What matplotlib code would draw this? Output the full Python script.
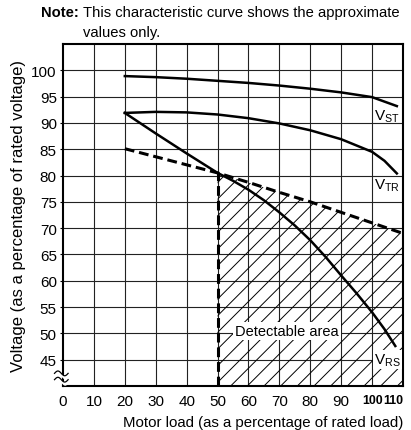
import numpy as np
import matplotlib
matplotlib.use("Agg")
import matplotlib.pyplot as plt

plt.rcParams['font.family'] = ['Liberation Sans', 'DejaVu Sans']
plt.rcParams['mathtext.fontset'] = 'custom'
plt.rcParams['mathtext.rm'] = 'Liberation Sans'
plt.rcParams['hatch.linewidth'] = 0.7

# motor load (%) and voltage (%)
vst_x = [20, 30, 40, 50, 60, 70, 80, 90, 100, 108]
vst_y = [98.9, 98.7, 98.4, 98.0, 97.6, 97.1, 96.5, 95.8, 94.9, 93.2]

vtr_x = [20, 30, 40, 50, 60, 70, 80, 90, 100, 104, 108]
vtr_y = [91.9, 92.1, 92.0, 91.6, 90.9, 89.9, 88.6, 86.9, 84.5, 82.8, 80.4]

vrs_x = [20, 30, 40, 50, 55, 60, 65, 70, 75, 80, 85, 90, 95, 100, 104, 107.5]
vrs_y = [91.9, 88.0, 84.2, 80.5, 79.0, 77.3, 75.3, 73.0, 70.5, 67.7, 64.5,
         61.0, 57.6, 54.0, 50.8, 47.6]

# detection limit (dashed)
lim_x = [20, 50, 60, 70, 80, 90, 100, 110]
lim_y = [85.1, 80.5, 78.7, 76.8, 75.0, 73.0, 71.0, 69.0]

x_ticks = [0, 10, 20, 30, 40, 50, 60, 70, 80, 90, 100, 110]
y_ticks = [45, 50, 55, 60, 65, 70, 75, 80, 85, 90, 95, 100]
y_min, y_max = 40, 105

fig = plt.figure(figsize=(4.11, 4.31), dpi=100)
ax = fig.add_axes([0.1533, 0.1021, 0.8273, 0.7935])
ax.set_xlim(0, 110)
ax.set_ylim(y_min, y_max)

# grid
for xv in x_ticks[1:-1]:
    ax.axvline(xv, color='#222222', lw=0.8, zorder=1)
for yv in y_ticks:
    ax.axhline(yv, color='#222222', lw=0.8, zorder=1)

# hatched detectable area
hx = np.array(lim_x[1:])
hy = np.array(lim_y[1:])
ax.fill_between(hx, y_min, hy, facecolor='none', edgecolor='black',
                hatch='//', lw=0, zorder=2)

dash = (0, (3.2, 1.6))
ax.plot(lim_x, lim_y, color='black', lw=2.2, linestyle=dash, zorder=4)
ax.plot([lim_x[1], lim_x[1]], [y_min, lim_y[1]], color='black', lw=2.2,
        linestyle=dash, zorder=4)

ax.plot(vst_x, vst_y, color='black', lw=1.8, zorder=5)
ax.plot(vtr_x, vtr_y, color='black', lw=1.8, zorder=5)
ax.plot(vrs_x, vrs_y, color='black', lw=1.8, zorder=5)

# curve labels
ax.text(100.6, 91.3, r'V$_{\rm ST}$', fontsize=11, va='center', ha='left', zorder=6)
ax.text(100.6, 78.3, r'V$_{\rm TR}$', fontsize=11, va='center', ha='left', zorder=6)
ax.text(100.6, 45.0, r'V$_{\rm RS}$', fontsize=11, va='center', ha='left', zorder=6,
        bbox=dict(facecolor='white', edgecolor='none', pad=0.8))
ax.text(72.5, 50.4, 'Detectable area', fontsize=10.5, va='center', ha='center',
        zorder=6, bbox=dict(facecolor='white', edgecolor='none', pad=1.5))

# axes styling
for s in ax.spines.values():
    s.set_linewidth(1.5)
ax.set_xticks(x_ticks)
ax.set_yticks(y_ticks)
ax.set_xticklabels([str(v) for v in x_ticks], fontsize=11)
ax.set_yticklabels([str(v) for v in y_ticks], fontsize=11)
xl = ax.get_xticklabels()
for lbl in xl[-2:]:
    lbl.set_fontweight('bold')
    lbl.set_fontsize(8.9)
xl[-1].set_horizontalalignment('right')
ax.tick_params(axis='x', length=0, pad=6)
ax.tick_params(axis='y', length=2.5, width=0.8, pad=2)

ax.set_xlabel('Motor load (as a percentage of rated load)', fontsize=10.8,
              loc='right', labelpad=5)
ax.set_ylabel('Voltage (as a percentage of rated voltage)', fontsize=12,
              labelpad=4)

# axis break mark on the y axis
br = ax.get_yaxis_transform()
t = np.linspace(-0.025, 0.015, 40)
for yb in (42.4, 41.2):
    wave = yb + 0.45 * np.sin((t + 0.025) / 0.04 * 2 * np.pi)
    ax.fill_between(t, wave - 0.6, wave, color='white', transform=br,
                    clip_on=False, zorder=7, lw=0)
for yb in (42.4, 41.2):
    wave = yb + 0.45 * np.sin((t + 0.025) / 0.04 * 2 * np.pi)
    ax.plot(t, wave, color='black', lw=0.9, transform=br, clip_on=False, zorder=8)

# note
fig.text(41 / 411, 1 - 13 / 431, 'Note:', fontsize=10.6, fontweight='bold',
         va='center', ha='left')
fig.text(83 / 411, 1 - 13 / 431, 'This characteristic curve shows the approximate',
         fontsize=10.6, va='center', ha='left')
fig.text(83 / 411, 1 - 33 / 431, 'values only.', fontsize=10.6, va='center', ha='left')

fig.savefig('out.png', dpi=100)
